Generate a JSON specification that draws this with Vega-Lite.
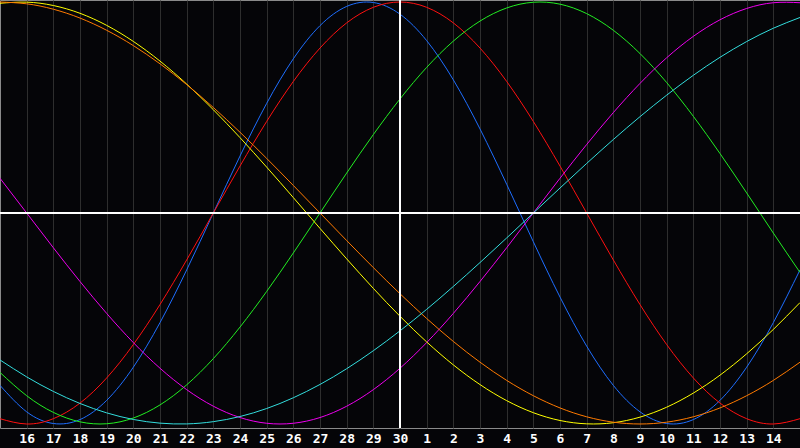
{
  "$schema": "https://vega.github.io/schema/vega-lite/v6.json",
  "width": 800,
  "height": 428,
  "autosize": {"type": "none"},
  "padding": {"left": 0, "top": 0, "right": 0, "bottom": 20},
  "background": "#050508",
  "config": {
    "view": {"stroke": "#8a8a8a", "strokeWidth": 1},
    "axis": {"grid": false}
  },
  "data": {
    "values": [
      {"t": 0, "phy": -0.8170, "emo": -0.9749, "int": -0.7557, "intu": 0.1646, "aes": 0.9940, "awa": 1.0000, "spi": -0.6966},
      {"t": 1, "phy": -0.9423, "emo": -1.0000, "int": -0.8660, "intu": 0.0000, "aes": 0.9993, "awa": 0.9914, "spi": -0.7767},
      {"t": 2, "phy": -0.9977, "emo": -0.9749, "int": -0.9450, "intu": -0.1646, "aes": 0.9834, "awa": 0.9659, "spi": -0.8457},
      {"t": 3, "phy": -0.9791, "emo": -0.9010, "int": -0.9898, "intu": -0.3247, "aes": 0.9465, "awa": 0.9239, "spi": -0.9028},
      {"t": 4, "phy": -0.8880, "emo": -0.7818, "int": -0.9989, "intu": -0.4759, "aes": 0.8893, "awa": 0.8660, "spi": -0.9473},
      {"t": 5, "phy": -0.7308, "emo": -0.6235, "int": -0.9718, "intu": -0.6142, "aes": 0.8132, "awa": 0.7934, "spi": -0.9786},
      {"t": 6, "phy": -0.5196, "emo": -0.4339, "int": -0.9096, "intu": -0.7357, "aes": 0.7199, "awa": 0.7071, "spi": -0.9960},
      {"t": 7, "phy": -0.2698, "emo": -0.2225, "int": -0.8146, "intu": -0.8372, "aes": 0.6111, "awa": 0.6088, "spi": -0.9996},
      {"t": 8, "phy": 0.0000, "emo": 0.0000, "int": -0.6901, "intu": -0.9158, "aes": 0.4895, "awa": 0.5000, "spi": -0.9890},
      {"t": 9, "phy": 0.2698, "emo": 0.2225, "int": -0.5406, "intu": -0.9694, "aes": 0.3572, "awa": 0.3827, "spi": -0.9646},
      {"t": 10, "phy": 0.5196, "emo": 0.4339, "int": -0.3717, "intu": -0.9966, "aes": 0.2174, "awa": 0.2588, "spi": -0.9267},
      {"t": 11, "phy": 0.7308, "emo": 0.6235, "int": -0.1893, "intu": -0.9966, "aes": 0.0730, "awa": 0.1305, "spi": -0.8757},
      {"t": 12, "phy": 0.8880, "emo": 0.7818, "int": 0.0000, "intu": -0.9694, "aes": -0.0730, "awa": 0.0000, "spi": -0.8126},
      {"t": 13, "phy": 0.9791, "emo": 0.9010, "int": 0.1893, "intu": -0.9158, "aes": -0.2174, "awa": -0.1305, "spi": -0.7380},
      {"t": 14, "phy": 0.9977, "emo": 0.9749, "int": 0.3717, "intu": -0.8372, "aes": -0.3572, "awa": -0.2588, "spi": -0.6527},
      {"t": 15, "phy": 0.9423, "emo": 1.0000, "int": 0.5406, "intu": -0.7357, "aes": -0.4895, "awa": -0.3827, "spi": -0.5585},
      {"t": 16, "phy": 0.8170, "emo": 0.9749, "int": 0.6901, "intu": -0.6142, "aes": -0.6111, "awa": -0.5000, "spi": -0.4566},
      {"t": 17, "phy": 0.6311, "emo": 0.9010, "int": 0.8146, "intu": -0.4759, "aes": -0.7199, "awa": -0.6088, "spi": -0.3482},
      {"t": 18, "phy": 0.3984, "emo": 0.7818, "int": 0.9096, "intu": -0.3247, "aes": -0.8132, "awa": -0.7071, "spi": -0.2349},
      {"t": 19, "phy": 0.1362, "emo": 0.6235, "int": 0.9718, "intu": -0.1646, "aes": -0.8893, "awa": -0.7934, "spi": -0.1183},
      {"t": 20, "phy": -0.1362, "emo": 0.4339, "int": 0.9989, "intu": 0.0000, "aes": -0.9465, "awa": -0.8660, "spi": 0.0000},
      {"t": 21, "phy": -0.3984, "emo": 0.2225, "int": 0.9898, "intu": 0.1646, "aes": -0.9834, "awa": -0.9239, "spi": 0.1183},
      {"t": 22, "phy": -0.6311, "emo": 0.0000, "int": 0.9450, "intu": 0.3247, "aes": -0.9993, "awa": -0.9659, "spi": 0.2349},
      {"t": 23, "phy": -0.8170, "emo": -0.2225, "int": 0.8660, "intu": 0.4759, "aes": -0.9940, "awa": -0.9914, "spi": 0.3482},
      {"t": 24, "phy": -0.9423, "emo": -0.4339, "int": 0.7557, "intu": 0.6142, "aes": -0.9675, "awa": -1.0000, "spi": 0.4566},
      {"t": 25, "phy": -0.9977, "emo": -0.6235, "int": 0.6182, "intu": 0.7357, "aes": -0.9204, "awa": -0.9914, "spi": 0.5585},
      {"t": 26, "phy": -0.9791, "emo": -0.7818, "int": 0.4582, "intu": 0.8372, "aes": -0.8535, "awa": -0.9659, "spi": 0.6527},
      {"t": 27, "phy": -0.8880, "emo": -0.9010, "int": 0.2817, "intu": 0.9158, "aes": -0.7686, "awa": -0.9239, "spi": 0.7380},
      {"t": 28, "phy": -0.7308, "emo": -0.9749, "int": 0.0951, "intu": 0.9694, "aes": -0.6672, "awa": -0.8660, "spi": 0.8126},
      {"t": 29, "phy": -0.5196, "emo": -1.0000, "int": -0.0951, "intu": 0.9966, "aes": -0.5518, "awa": -0.7934, "spi": 0.8757},
      {"t": 30, "phy": -0.2698, "emo": -0.9749, "int": -0.2817, "intu": 0.9966, "aes": -0.4245, "awa": -0.7071, "spi": 0.9267}
    ]
  },
  "transform": [
    {"fold": ["phy", "emo", "int", "intu", "aes", "awa", "spi"], "as": ["cycle", "v"]}
  ],
  "layer": [
    {
      "mark": {"type": "line", "strokeWidth": 1, "interpolate": "natural", "clip": true},
      "encoding": {
        "x": {
          "field": "t",
          "type": "quantitative",
          "scale": {"domain": [0, 30], "nice": false},
          "axis": {
            "title": null,
            "values": [1, 2, 3, 4, 5, 6, 7, 8, 9, 10, 11, 12, 13, 14, 15, 16, 17, 18, 19, 20, 21, 22, 23, 24, 25, 26, 27, 28, 29],
            "tickCount": 40,
            "labelExpr": "datum.value <= 15 ? datum.value + 15 : datum.value - 15",
            "grid": true,
            "gridColor": "#2e2e2e",
            "gridWidth": 1,
            "ticks": false,
            "domain": false,
            "labelColor": "#ffffff",
            "labelFont": "DejaVu Sans Mono",
            "labelFontWeight": "bold",
            "labelFontSize": 13,
            "labelPadding": 4,
            "labelOverlap": false
          }
        },
        "y": {
          "field": "v",
          "type": "quantitative",
          "scale": {"domain": [-1.019, 1.0095], "nice": false, "zero": false},
          "axis": null
        },
        "color": {
          "field": "cycle",
          "type": "nominal",
          "scale": {
            "domain": ["phy", "emo", "int", "intu", "aes", "awa", "spi"],
            "range": ["#1e6eff", "#ff1010", "#22ee22", "#ee00ee", "#ffff00", "#ff7a00", "#33dddd"]
          },
          "legend": null
        }
      }
    },
    {
      "mark": {"type": "rule", "color": "#ffffff", "strokeWidth": 1},
      "encoding": {"x": {"datum": 15}}
    },
    {
      "mark": {"type": "rule", "color": "#ffffff", "strokeWidth": 1},
      "encoding": {"y": {"datum": 0}}
    }
  ]
}
